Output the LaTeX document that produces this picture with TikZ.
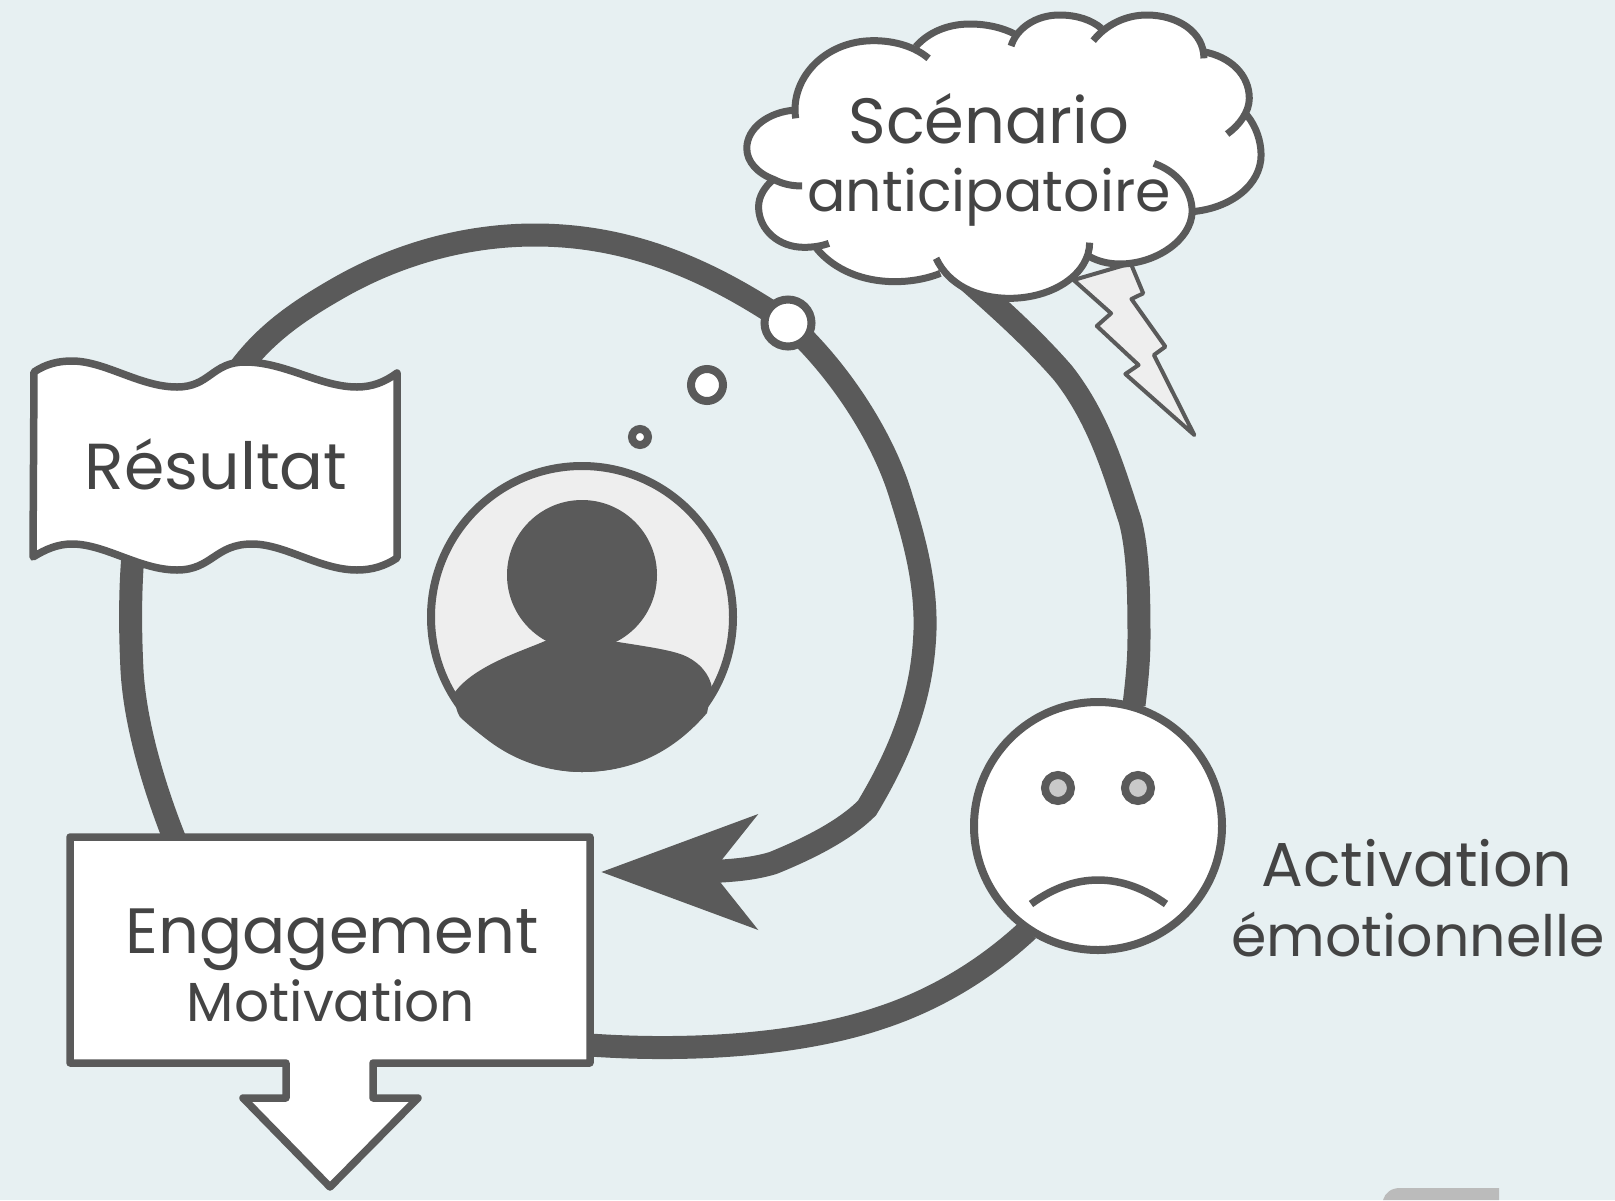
\documentclass[tikz,border=0pt]{standalone}
\usepackage{fontspec}
\usetikzlibrary{arrows.meta}
\setmainfont{Poppins}
\definecolor{bgc}{HTML}{E7F0F2}
\definecolor{ink}{HTML}{5A5A5A}
\definecolor{txt}{HTML}{444444}
\definecolor{pale}{HTML}{EEEEEE}
\definecolor{eye}{HTML}{C9C9C9}
\definecolor{smudge}{HTML}{BBBBBB}
\newcommand{\lab}[3]{\fontsize{#1}{#1}\selectfont\scalebox{#2}[1]{#3}}
\tikzset{
  conn/.style={draw=ink,line width=23pt},
  outline/.style={draw=ink,line width=7.5pt,line join=round},
  cloudline/.style={draw=ink,line width=7pt},
  lbl/.style={anchor=base,inner sep=0pt,text=txt},
  ring/.style={circle,draw=ink,line width=8pt,inner sep=0pt}
}
\begin{document}
\begin{tikzpicture}[x=1pt,y=-1pt]
\useasboundingbox (0,0) rectangle (1615,1200);
\fill[bgc] (0,0) rectangle (1615,1200);
\fill[smudge] (1383,1200) .. controls (1385,1193) and (1391,1188) .. (1400,1188) -- (1499,1188) -- (1499,1200) -- cycle;

% named ends of the connectors
\coordinate (flagTop) at (240,368);
\coordinate (flagBottom) at (133,555);
\coordinate (engTop) at (175,840);
\coordinate (engRight) at (590,1045);
\coordinate (engArrow) at (601,872);
\coordinate (cloudEnd) at (950,265);
\coordinate (faceTop) at (1134,705);
\coordinate (faceBottom) at (1028,930);

% connectors
\draw[conn] (flagTop) .. controls (265,335) and (295,313) .. (335,290) .. controls (400,252) and (470,235) .. (535,235) .. controls (630,235) and (710,270) .. (788,323);
\draw[conn,-{Stealth[length=155pt,width=113pt,inset=44pt]}] (788,323) .. controls (840,370) and (885,440) .. (902,500) .. controls (918,550) and (926,590) .. (925,630) .. controls (923,690) and (905,745) .. (867,808) .. controls (845,830) and (810,848) .. (773,863) .. controls (750,870) and (725,871) .. (700,872) -- (engArrow);
\draw[conn] (flagBottom) .. controls (130,590) and (130,630) .. (132,670) .. controls (135,725) and (155,790) .. (engTop);
\draw[conn] (cloudEnd) .. controls (990,300) and (1030,335) .. (1063,373) .. controls (1100,420) and (1115,475) .. (1130,520) .. controls (1138,550) and (1139,590) .. (1139,637) .. controls (1139,660) and (1137,680) .. (faceTop);
\draw[conn] (engRight) .. controls (690,1052) and (800,1045) .. (880,1018) .. controls (935,1000) and (985,970) .. (faceBottom);

% Résultat flag
\draw[outline,fill=white] (34,372) .. controls (46,364) and (58,361) .. (72,361) .. controls (105,361) and (140,387) .. (177,387) .. controls (210,387) and (212,362) .. (245,362) .. controls (285,362) and (320,387) .. (357,387) .. controls (372,387) and (385,382) .. (397,373) -- (397,558) .. controls (385,566) and (372,570) .. (357,570) .. controls (320,570) and (285,544) .. (252,544) .. controls (215,544) and (212,570) .. (177,570) .. controls (140,570) and (105,544) .. (72,544) .. controls (58,544) and (46,549) .. (33,557) -- cycle;
\node[lbl] (resultat) at (216,489) {\lab{65}{1}{Résultat}};

% Engagement box with its down arrow
\draw[outline,fill=white] (70,837) -- (590,837) -- (590,1063) -- (373,1063) -- (373,1098) -- (418,1098) -- (330,1187) -- (243,1098) -- (286,1098) -- (286,1063) -- (70,1063) -- cycle;
\node[lbl] (engagement) at (332,953) {\lab{64}{1}{Engagement}};
\node[lbl] (motivation) at (331,1021) {\lab{55}{1}{Motivation}};

% thought circles
\node[ring,fill=white,minimum size=47pt] (bubbleC) at (788,323) {};
\node[ring,fill=white,minimum size=32pt] (bubbleB) at (707,385) {};
\node[ring,fill=white,minimum size=16pt] (bubbleA) at (640,437) {};

% person
\node[ring,fill=pale,minimum size=302pt] (portrait) at (582,617) {};
\fill[ink] (582,575) circle (75);
\fill[ink] (455,692) .. controls (475,665) and (525,650) .. (545,641) -- (618,642) .. controls (650,647) and (670,650) .. (683,655) .. controls (700,662) and (710,675) .. (712,688) -- (707,713) .. controls (675,750) and (635,772) .. (582,772) .. controls (545,772) and (500,755) .. (460,717) .. controls (457,712) and (455,707) .. (455,692) -- cycle;

% face
\node[ring,fill=white,minimum size=248pt] (face) at (1098,826) {};
\node[ring,fill=eye,minimum size=26pt] (eyeL) at (1058,788) {};
\node[ring,fill=eye,minimum size=26pt] (eyeR) at (1138,788) {};
\draw[outline,line join=miter] (1031,904) .. controls (1075,872) and (1121,872) .. (1166,904);
\node[lbl] (activation) at (1417,886) {\lab{62}{1}{Activation}};
\node[lbl] (emotion) at (1418,956) {\lab{57}{1}{émotionnelle}};

% cloud, bolt first
\begin{scope}[shift={(720,0)},x=0.35714pt,y=-0.33333pt]
\draw[draw=ink,fill=pale,line width=4pt,line join=round] (990,840) -- (1095,940) -- (1055,978) -- (1172,1095) -- (1135,1122) -- (1328,1305) -- (1215,1065) -- (1247,1040) -- (1152,897) -- (1185,880) -- (1150,790) -- cycle;
\fill[white] (205,335) .. controls (205,260) and (300,122) .. (430,122) .. controls (470,122) and (510,127) .. (548,140) .. controls (585,95) and (640,72) .. (700,72) .. controls (750,72) and (795,85) .. (825,102) .. controls (855,62) and (905,45) .. (950,45) .. controls (1000,45) and (1040,60) .. (1068,85) .. controls (1105,58) and (1150,45) .. (1195,45) .. controls (1280,45) and (1340,90) .. (1353,155) .. controls (1430,170) and (1482,225) .. (1482,295) .. controls (1482,315) and (1480,330) .. (1475,345) .. controls (1502,380) and (1515,425) .. (1515,465) .. controls (1515,555) and (1430,625) .. (1322,635) .. controls (1320,720) and (1220,792) .. (1120,792) .. controls (1090,792) and (1060,785) .. (1035,770) .. controls (1000,850) and (910,895) .. (810,895) .. controls (735,895) and (665,870) .. (617,820) .. controls (575,838) and (530,845) .. (490,845) .. controls (400,845) and (320,810) .. (270,745) .. controls (255,745) and (245,742) .. (235,742) .. controls (165,742) and (108,690) .. (108,620) .. controls (108,590) and (125,560) .. (150,538) .. controls (105,520) and (75,485) .. (75,445) .. controls (75,385) and (135,335) .. (205,330) -- cycle;
\draw[cloudline] (212,355) .. controls (195,240) and (290,122) .. (430,122) .. controls (490,122) and (545,140) .. (584,175);
\draw[cloudline] (548,140) .. controls (585,95) and (640,72) .. (700,72) .. controls (750,72) and (795,85) .. (825,102);
\draw[cloudline] (815,138) .. controls (830,85) and (885,45) .. (950,45) .. controls (1000,45) and (1040,60) .. (1068,85);
\draw[cloudline] (1045,122) .. controls (1080,75) and (1135,45) .. (1195,45) .. controls (1280,45) and (1355,95) .. (1355,175);
\draw[cloudline] (1353,155) .. controls (1430,170) and (1482,225) .. (1482,295) .. controls (1482,335) and (1455,375) .. (1420,402);
\draw[cloudline] (1475,345) .. controls (1502,380) and (1515,425) .. (1515,465) .. controls (1515,555) and (1430,625) .. (1322,635);
\draw[cloudline] (1215,490) .. controls (1280,515) and (1322,570) .. (1322,635) .. controls (1320,720) and (1220,792) .. (1120,792) .. controls (1090,792) and (1060,785) .. (1035,770);
\draw[cloudline] (1035,728) .. controls (1035,820) and (935,895) .. (810,895) .. controls (720,895) and (640,855) .. (605,775);
\draw[cloudline] (617,820) .. controls (575,838) and (530,845) .. (490,845) .. controls (400,845) and (320,810) .. (270,745);
\draw[cloudline] (305,730) .. controls (285,738) and (260,742) .. (235,742) .. controls (165,742) and (108,690) .. (108,620) .. controls (108,590) and (125,560) .. (150,538);
\draw[cloudline] (230,558) .. controls (200,558) and (175,552) .. (150,538) .. controls (105,520) and (75,485) .. (75,445) .. controls (75,385) and (135,335) .. (212,330);
\end{scope}
\node[lbl] (scenario) at (989,143) {\lab{64}{1}{Scénario}};
\node[lbl] (anticip) at (989,211) {\lab{57}{1}{anticipatoire}};
\end{tikzpicture}
\end{document}
